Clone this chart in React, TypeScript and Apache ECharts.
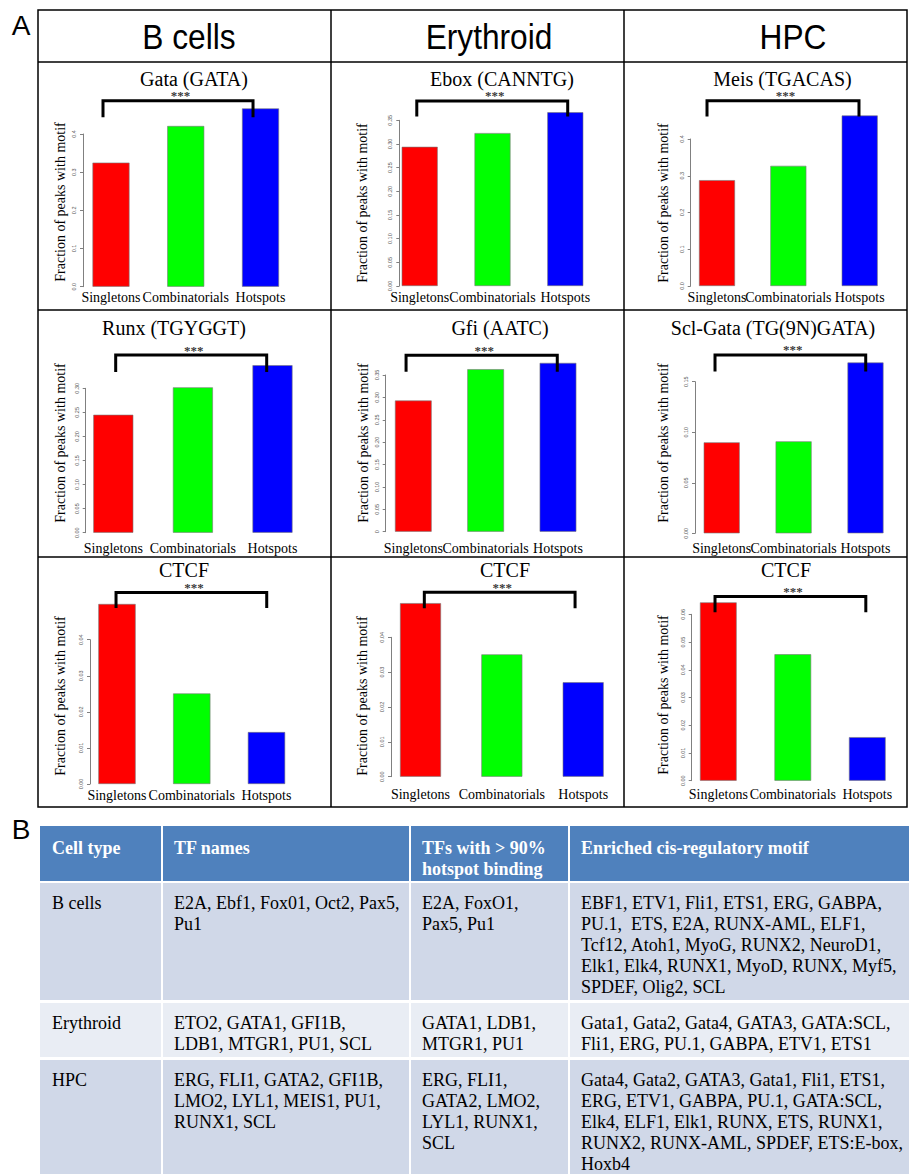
import React, { useEffect, useRef } from "react";
import * as echarts from "echarts";

// ---------- data ----------
const categories = ["Singletons", "Combinatorials", "Hotspots"];
const cellTypes = ["B cells", "Erythroid", "HPC"];
const panelTitles = [
  "Gata (GATA)", "Ebox (CANNTG)", "Meis (TGACAS)",
  "Runx (TGYGGT)", "Gfi (AATC)", "Scl-Gata (TG(9N)GATA)",
  "CTCF", "CTCF", "CTCF",
];
const gataBcells = [0.325, 0.421, 0.467];
const eboxErythroid = [0.294, 0.323, 0.367];
const meisHPC = [0.288, 0.327, 0.464];
const runxBcells = [0.245, 0.302, 0.348];
const gfiErythroid = [0.293, 0.363, 0.377];
const sclGataHPC = [0.09, 0.091, 0.169];
const ctcfBcells = [0.0499, 0.0251, 0.0144];
const ctcfErythroid = [0.0498, 0.0351, 0.0271];
const ctcfHPC = [0.0643, 0.0456, 0.0157];
const panelValues = [
  gataBcells, eboxErythroid, meisHPC,
  runxBcells, gfiErythroid, sclGataHPC,
  ctcfBcells, ctcfErythroid, ctcfHPC,
];
const yMax = [0.4, 0.35, 0.4, 0.3, 0.35, 0.15, 0.04, 0.04, 0.06];
const yStep = [0.1, 0.05, 0.1, 0.05, 0.05, 0.05, 0.01, 0.01, 0.01];
const yDecimals = [1, 2, 1, 2, 2, 2, 2, 2, 2];
const zeroAsInteger = [false, false, false, false, true, false, false, false, false];
const significance = ["***", "***", "***", "***", "***", "***", "***", "***", "***"];
// bracket ends (category index units) and heights (data units)
const bracketLeft = [-0.107, -0.04, -0.14, 0.03, -0.1, -0.093, -0.013, 0.047, -0.044];
const bracketRight = [1.9, 2.033, 1.99, 1.927, 1.99, 2.003, 2.003, 1.9, 1.98];
const bracketTop = [0.487, 0.391, 0.504, 0.369, 0.394, 0.1765, 0.0531, 0.0529, 0.0664];
const bracketFoot = [0.444, 0.358, 0.461, 0.334, 0.357, 0.16, 0.0488, 0.0483, 0.0607];

const tableHeader = ["Cell type", "TF names", "TFs with > 90%\nhotspot binding", "Enriched cis-regulatory motif"];
const tableRows = [
  [
    "B cells",
    "E2A, Ebf1, Fox01, Oct2, Pax5,\nPu1",
    "E2A, FoxO1,\nPax5, Pu1",
    "EBF1, ETV1, Fli1, ETS1, ERG, GABPA,\nPU.1,  ETS, E2A, RUNX-AML, ELF1,\nTcf12, Atoh1, MyoG, RUNX2, NeuroD1,\nElk1, Elk4, RUNX1, MyoD, RUNX, Myf5,\nSPDEF, Olig2, SCL",
  ],
  [
    "Erythroid",
    "ETO2, GATA1, GFI1B,\nLDB1, MTGR1, PU1, SCL",
    "GATA1, LDB1,\nMTGR1, PU1",
    "Gata1, Gata2, Gata4, GATA3, GATA:SCL,\nFli1, ERG, PU.1, GABPA, ETV1, ETS1",
  ],
  [
    "HPC",
    "ERG, FLI1, GATA2, GFI1B,\nLMO2, LYL1, MEIS1, PU1,\nRUNX1, SCL",
    "ERG, FLI1,\nGATA2, LMO2,\nLYL1, RUNX1,\nSCL",
    "Gata4, Gata2, GATA3, Gata1, Fli1, ETS1,\nERG, ETV1, GABPA, PU.1, GATA:SCL,\nElk4, ELF1, Elk1, RUNX, ETS, RUNX1,\nRUNX2, RUNX-AML, SPDEF, ETS:E-box,\nHoxb4",
  ],
];

// ---------- layout / style ----------
const SERIF = "Liberation Serif, serif";
const SANS = "Liberation Sans, sans-serif";
const barColors = ["#ff0000", "#00ff00", "#0000ff"];

const layout = [
  { axisX: 83, y0: 286.7, yTop: 134, first: 111, spacing: 74.75, barW: 37, lm: 3.5, tx: 194, ty: 78.5, lx: 60, ly: 202 },
  { axisX: 399.3, y0: 286, yTop: 120.3, first: 419.7, spacing: 72.8, barW: 36, lm: 4, tx: 502, ty: 78.5, lx: 362, ly: 203 },
  { axisX: 690.7, y0: 286, yTop: 139, first: 717, spacing: 71.35, barW: 36, lm: 4, tx: 782.5, ty: 78.5, lx: 663, ly: 203 },
  { axisX: 85.7, y0: 532.7, yTop: 388.3, first: 113.3, spacing: 79.6, barW: 40, lm: 8.6, tx: 174, ty: 328, lx: 60.7, ly: 443 },
  { axisX: 385.7, y0: 531.7, yTop: 375, first: 413.3, spacing: 72.35, barW: 36.7, lm: 9.6, tx: 500, ty: 328, lx: 363, ly: 443 },
  { axisX: 695, y0: 533.3, yTop: 381.7, first: 721.7, spacing: 71.9, barW: 36, lm: 8, tx: 773, ty: 328, lx: 663, ly: 443 },
  { axisX: 90, y0: 784, yTop: 639.7, first: 117, spacing: 74.75, barW: 37.3, lm: 4, tx: 184, ty: 570, lx: 60.7, ly: 696 },
  { axisX: 391, y0: 776.7, yTop: 637.3, first: 420.5, spacing: 81.35, barW: 41, lm: 10.3, tx: 505, ty: 570, lx: 362, ly: 696 },
  { axisX: 691.7, y0: 780.7, yTop: 614.3, first: 718.3, spacing: 74.5, barW: 36.7, lm: 6.3, tx: 786, ty: 570, lx: 663, ly: 695 },
];

const headerX = [189, 489, 793];
const frame = { left: 38, top: 10, right: 907, bottom: 807, cols: [331, 624], rows: [62, 310, 557] };
const table = {
  left: 40, right: 909, cols: [162, 410, 569],
  rows: [
    { top: 826, bottom: 881, fill: "#4f81bd" },
    { top: 883, bottom: 1000, fill: "#d0d8e8" },
    { top: 1003, bottom: 1057, fill: "#e9edf4" },
    { top: 1060, bottom: 1174, fill: "#d0d8e8" },
  ],
};

function buildOption() {
  const grid: any[] = [];
  const xAxis: any[] = [];
  const yAxis: any[] = [];
  const series: any[] = [];
  const graphic: any[] = [];

  panelValues.forEach((vals, i) => {
    const L = layout[i];
    const left = L.first - L.spacing / 2;
    grid.push({ left, top: L.yTop, width: L.spacing * 3, height: L.y0 - L.yTop, containLabel: false });
    xAxis.push({
      type: "category", gridIndex: i, data: categories,
      axisLine: { show: false }, axisTick: { show: false }, splitLine: { show: false },
      axisLabel: { interval: 0, hideOverlap: false, fontSize: 14, fontFamily: SERIF, color: "#000", margin: L.lm },
    });
    xAxis.push({ type: "value", gridIndex: i, min: -0.5, max: 2.5, show: false, axisLine: { onZero: false } });
    const dec = yDecimals[i];
    const zi = zeroAsInteger[i];
    yAxis.push({
      type: "value", gridIndex: i, min: 0, max: yMax[i], interval: yStep[i],
      offset: left - L.axisX,
      axisLine: { show: true, onZero: false, lineStyle: { color: "#808080", width: 1 } },
      axisTick: { show: true, length: 3, lineStyle: { color: "#808080", width: 1 } },
      splitLine: { show: false },
      axisLabel: {
        rotate: 90, fontSize: 5.5, fontFamily: SANS, color: "#555", margin: 6,
        formatter: (v: number) => (v === 0 && zi ? "0" : v.toFixed(dec)),
      },
    });
    series.push({
      type: "bar", xAxisIndex: 2 * i, yAxisIndex: i, barWidth: L.barW, clip: false,
      data: vals.map((v, k) => ({ value: v, itemStyle: { color: barColors[k] } })),
      itemStyle: { borderColor: "#777", borderWidth: 0.6 },
      silent: true,
    });
    series.push({
      type: "line", xAxisIndex: 2 * i + 1, yAxisIndex: i, symbol: "none", clip: false, silent: true, z: 5,
      data: [
        [bracketLeft[i], bracketFoot[i]],
        [bracketLeft[i], bracketTop[i]],
        [bracketRight[i], bracketTop[i]],
        [bracketRight[i], bracketFoot[i]],
      ],
      lineStyle: { color: "#000", width: 3, join: "miter", cap: "butt" },
    });
    series.push({
      type: "scatter", xAxisIndex: 2 * i + 1, yAxisIndex: i, clip: false, silent: true, z: 6,
      symbolSize: 0.1, itemStyle: { color: "rgba(0,0,0,0)" },
      data: [[(bracketLeft[i] + bracketRight[i]) / 2, bracketTop[i]]],
      label: {
        show: true, formatter: significance[i], position: "top", distance: 0, offset: [2.5, -1],
        fontSize: 13, lineHeight: 8, fontWeight: "bold", fontFamily: SERIF, color: "#000",
      },
    });
    graphic.push({
      type: "text", x: L.tx, y: L.ty, silent: true,
      style: { text: panelTitles[i], fontSize: 20, lineHeight: 16, fontFamily: SERIF, fill: "#000", textAlign: "center", textVerticalAlign: "middle" },
    });
    graphic.push({
      type: "text", x: L.lx, y: L.ly, rotation: Math.PI / 2, silent: true,
      style: { text: "Fraction of peaks with motif", fontSize: 14, fontFamily: SERIF, fill: "#000", textAlign: "center", textVerticalAlign: "middle" },
    });
  });

  // frame of panel A
  const lw = 1.5;
  const ln = (x1: number, y1: number, x2: number, y2: number, stroke = "#000", w = lw) => ({
    type: "line", silent: true, shape: { x1, y1, x2, y2 }, style: { stroke, lineWidth: w },
  });
  graphic.push({
    type: "rect", silent: true,
    shape: { x: frame.left, y: frame.top, width: frame.right - frame.left, height: frame.bottom - frame.top },
    style: { fill: "none", stroke: "#000", lineWidth: lw },
  });
  frame.cols.forEach((x) => graphic.push(ln(x, frame.top, x, frame.bottom)));
  frame.rows.forEach((y) => graphic.push(ln(frame.left, y, frame.right, y)));
  cellTypes.forEach((c, k) =>
    graphic.push({
      type: "text", x: headerX[k], y: 36, scaleX: 0.88, silent: true,
      style: { text: c, fontSize: 36, fontFamily: SANS, fill: "#000", textAlign: "center", textVerticalAlign: "middle" },
    })
  );
  graphic.push({ type: "text", x: 21, y: 25, silent: true, style: { text: "A", fontSize: 28, fontFamily: SANS, fill: "#000", textAlign: "center", textVerticalAlign: "middle" } });
  graphic.push({ type: "text", x: 21, y: 829, silent: true, style: { text: "B", fontSize: 28, fontFamily: SANS, fill: "#000", textAlign: "center", textVerticalAlign: "middle" } });

  // table B
  table.rows.forEach((r) =>
    graphic.push({
      type: "rect", silent: true,
      shape: { x: table.left, y: r.top, width: table.right - table.left, height: r.bottom - r.top },
      style: { fill: r.fill },
    })
  );
  table.cols.forEach((x) => graphic.push(ln(x, table.rows[0].top, x, 1174, "#fff", 2)));
  const colX = [table.left, ...table.cols];
  const allRows = [tableHeader, ...tableRows];
  allRows.forEach((row, ri) => {
    const top = table.rows[ri].top;
    row.forEach((txt, ci) =>
      graphic.push({
        type: "text", silent: true, x: colX[ci] + 12, y: top + (ri === 0 ? 11 : 9),
        style: {
          text: txt, fontSize: 18, lineHeight: 21, fontFamily: SERIF,
          fontWeight: ri === 0 ? "bold" : "normal", fill: ri === 0 ? "#fff" : "#000",
          textAlign: "left", textVerticalAlign: "top",
        },
      })
    );
  });

  return { animation: false, backgroundColor: "#fff", grid, xAxis, yAxis, series, graphic };
}

export default function App() {
  const ref = useRef<HTMLDivElement>(null);
  useEffect(() => {
    document.body.style.margin = "0";
    const chart = echarts.init(ref.current!, null, { renderer: "svg" });
    chart.setOption(buildOption() as any);
    return () => chart.dispose();
  }, []);
  return <div ref={ref} style={{ position: "absolute", left: 0, top: 0, width: 909, height: 1174 }} />;
}
